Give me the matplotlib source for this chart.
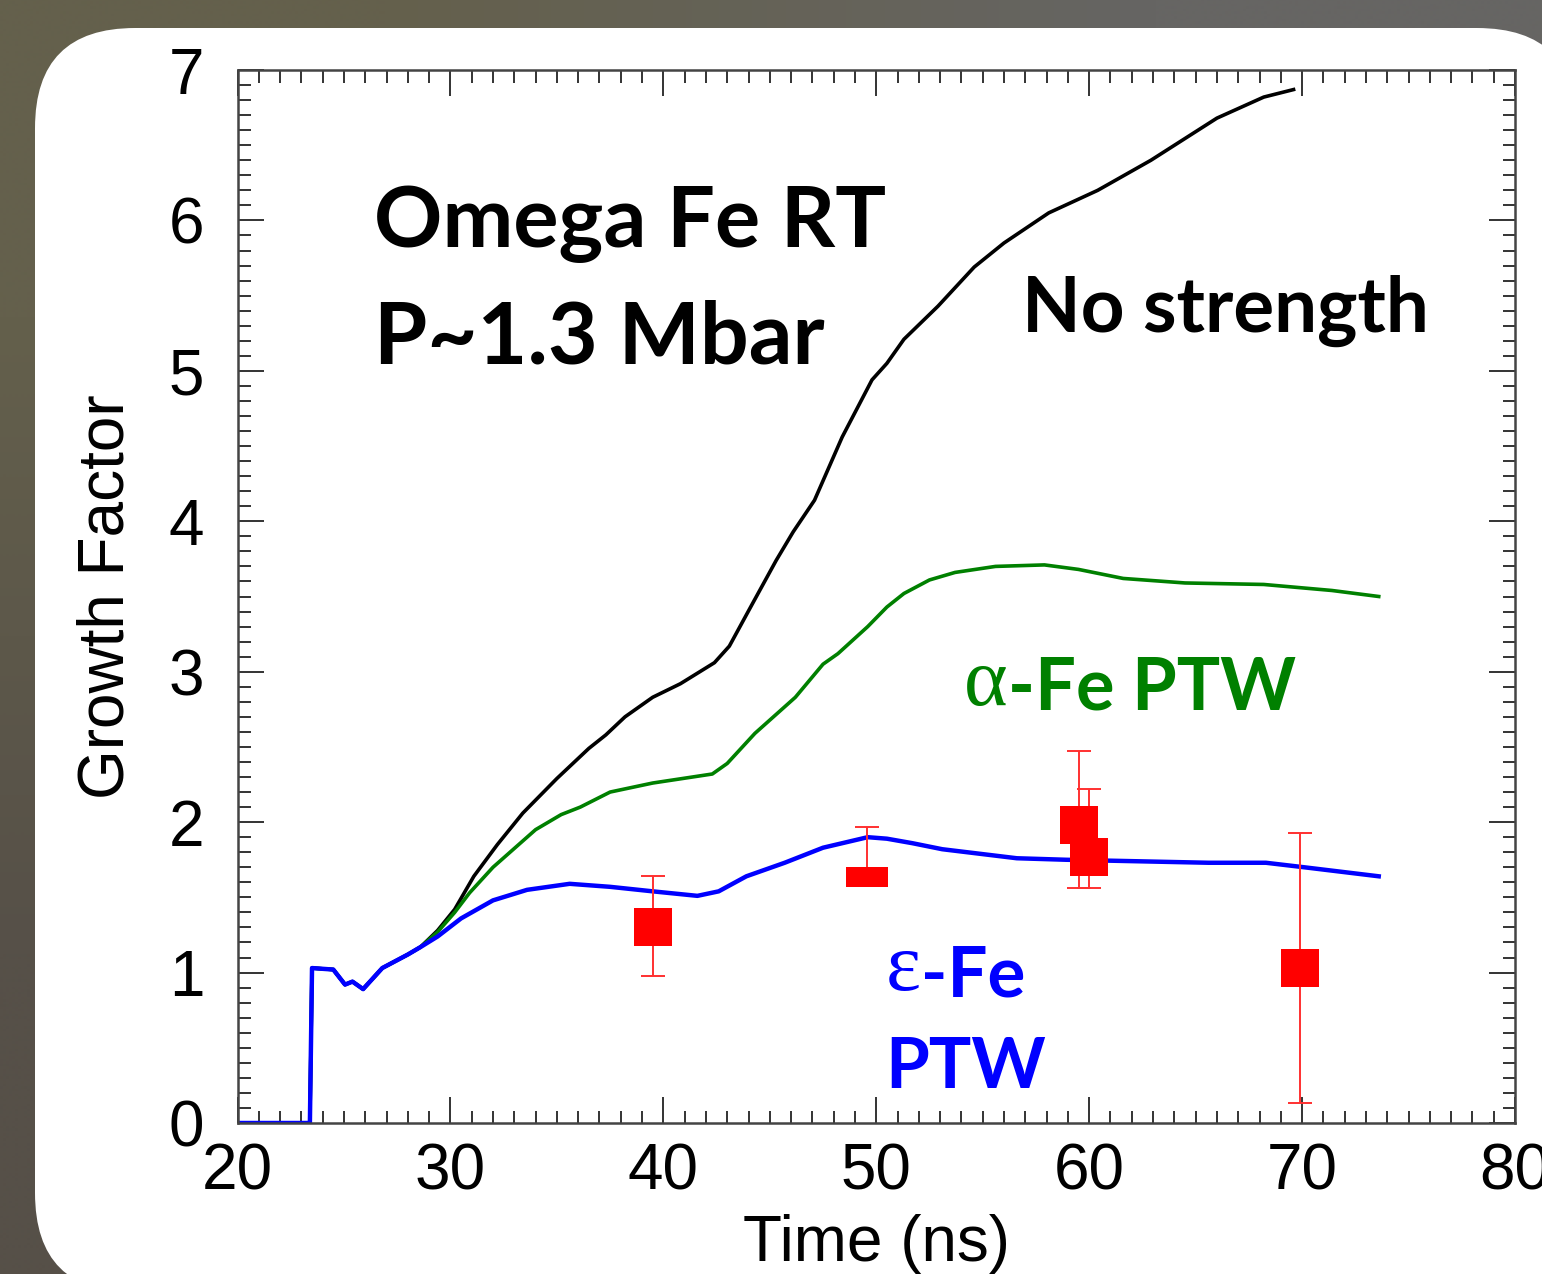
import numpy as np
import matplotlib
matplotlib.use('Agg')
import matplotlib.pyplot as plt
from matplotlib.patches import FancyBboxPatch
from matplotlib.ticker import MultipleLocator
from matplotlib.transforms import IdentityTransform

# =========================
# Data
# =========================
early_t = [20.0, 23.4, 23.5, 24.5, 25.05, 25.4, 25.9, 26.8, 28.0, 28.6]
early_g = [0.0, 0.0, 1.03, 1.02, 0.92, 0.94, 0.89, 1.03, 1.12, 1.17]

# no strength (black)
ns_t = early_t + [29.4, 30.2, 31.1, 32.2, 33.4, 35.0, 36.5, 37.3, 38.2, 39.5, 40.8,
                  42.4, 43.1, 44.1, 45.3, 46.1, 47.1, 48.4, 49.8, 50.5, 51.3, 52.9,
                  54.6, 56.0, 58.1, 60.4, 62.9, 66.0, 68.2, 69.6]
ns_g = early_g + [1.28, 1.42, 1.64, 1.85, 2.06, 2.29, 2.49, 2.58, 2.70, 2.83, 2.92,
                  3.06, 3.17, 3.43, 3.74, 3.93, 4.14, 4.56, 4.94, 5.05, 5.21, 5.43,
                  5.69, 5.85, 6.05, 6.20, 6.40, 6.68, 6.82, 6.87]

# alpha-Fe PTW (green)
alpha_t = early_t + [29.4, 30.2, 30.9, 32.0, 34.0, 35.2, 36.1, 37.5, 39.5, 42.3, 43.0,
                     44.3, 46.2, 47.5, 48.2, 49.6, 50.5, 51.3, 52.5, 53.7, 55.6, 57.9,
                     59.5, 61.6, 64.5, 68.2, 71.4, 73.6]
alpha_g = early_g + [1.27, 1.40, 1.53, 1.70, 1.95, 2.05, 2.10, 2.20, 2.26, 2.32, 2.39,
                     2.59, 2.83, 3.05, 3.12, 3.30, 3.43, 3.52, 3.61, 3.66, 3.70, 3.71,
                     3.68, 3.62, 3.59, 3.58, 3.54, 3.50]

# epsilon-Fe PTW (blue)
eps_t = early_t + [29.4, 30.5, 32.0, 33.6, 35.6, 37.5, 39.5, 41.6, 42.6, 43.9, 45.7,
                   47.5, 49.6, 50.5, 51.7, 53.1, 56.6, 58.9, 65.6, 68.3, 70.1, 73.6]
eps_g = early_g + [1.24, 1.36, 1.48, 1.55, 1.59, 1.57, 1.54, 1.51, 1.54, 1.64, 1.73,
                   1.83, 1.90, 1.89, 1.86, 1.82, 1.76, 1.75, 1.73, 1.73, 1.70, 1.64]

# experiment (red squares)
exp_t = [39.5, 59.5, 60.0, 69.9]
exp_g = [1.30, 1.98, 1.77, 1.03]
exp_lo = [0.32, 0.42, 0.21, 0.90]
exp_hi = [0.34, 0.49, 0.45, 0.90]
# the flattened point near 50 ns
flat_t = [49.55]
flat_g = [1.635]
flat_lo = [0.05]
flat_hi = [0.335]

x_ticks = [20, 30, 40, 50, 60, 70, 80]
y_ticks = [0, 1, 2, 3, 4, 5, 6, 7]

# =========================
# Figure
# =========================
W, H = 1542, 1274
fig = plt.figure(figsize=(W / 100, H / 100), dpi=100)

bg = fig.add_axes([0, 0, 1, 1], zorder=-3)
bg_rgb = np.array([[[100, 96, 76], [102, 101, 99]],
                   [[86, 80, 72], [96, 94, 90]]]) / 255
bg.imshow(bg_rgb, extent=[0, 1, 0, 1], aspect='auto', interpolation='bilinear')
bg.axis('off')

panel = FancyBboxPatch((35, -19), 1542, 1265, boxstyle='round,pad=0,rounding_size=100',
                       transform=IdentityTransform(), fc='white', ec='none', zorder=-2)
fig.add_artist(panel)

left, right, top, bottom = 237.5, 1515, 70, 1123
ax = fig.add_axes([left / W, (H - bottom) / H, (right - left) / W, (bottom - top) / H])

ax.plot(ns_t, ns_g, color='black', lw=2.6)
ax.plot(alpha_t, alpha_g, color='#008000', lw=2.6)
ax.plot(eps_t, eps_g, color='#0000ff', lw=3.2)

ax.errorbar(exp_t, exp_g, yerr=[exp_lo, exp_hi], fmt='none', ecolor='#ff3030',
            elinewidth=1.4, capsize=8.3, capthick=1.4, zorder=3)
ax.plot(exp_t, exp_g, ls='none', marker='s', ms=27.4, mfc='red', mec='red', mew=0, zorder=4)
ax.errorbar(flat_t, flat_g, yerr=[flat_lo, flat_hi], fmt='none', ecolor='#ff3030',
            elinewidth=1.4, capsize=8.3, capthick=1.4, zorder=3)
rect = [(-1, -0.5), (1, -0.5), (1, 0.5), (-1, 0.5), (-1, -0.5)]
ax.plot(flat_t, flat_g, ls='none', marker=rect, ms=30, mfc='red', mec='red', mew=0, zorder=4)

ax.set_xlim(20, 80)
ax.set_ylim(0, 7)
ax.set_xticks(x_ticks)
ax.set_yticks(y_ticks)
ax.xaxis.set_minor_locator(MultipleLocator(1))
ax.yaxis.set_minor_locator(MultipleLocator(0.1))

tick_font = 'Liberation Sans'
ax.tick_params(which='both', direction='in', top=True, right=True, color='#333333')
ax.tick_params(which='major', length=18.7, width=1.4)
ax.tick_params(which='minor', length=9, width=1.4)
ax.tick_params(axis='x', which='major', pad=14, labelsize=46)
ax.tick_params(axis='y', which='major', pad=24, labelsize=46)
for lab in ax.get_xticklabels() + ax.get_yticklabels():
    lab.set_fontfamily(tick_font)
for sp in ax.spines.values():
    sp.set_linewidth(1.8)
    sp.set_color('#444444')

ax.set_xlabel('Time (ns)', fontsize=46, family=tick_font, labelpad=8)
ax.set_ylabel('Growth Factor', fontsize=46, family=tick_font, labelpad=23)

# annotations
bold = dict(family='Lato', weight='bold', va='baseline', ha='left')
ax.text(26.41, 5.82, 'Omega Fe RT', fontsize=61, color='black', **bold)
ax.text(26.41, 5.05, 'P~1.3 Mbar', fontsize=62, color='black', **bold)
ax.text(56.84, 5.26, 'No strength', fontsize=55, color='black', **bold)

a1 = ax.text(54.12, 2.78, '\u03b1', fontsize=60, family='Liberation Serif',
             color='#008000', va='baseline', ha='left')
ax.annotate('-Fe PTW', xy=(1, 0), xycoords=a1, fontsize=52, color='#008000',
            family='Lato', weight='bold', va='bottom', ha='left')

e1 = ax.text(50.46, 0.884, '\u03b5', fontsize=60, family='Liberation Serif',
             color='#0000ff', va='baseline', ha='left')
ax.annotate('-Fe', xy=(1, 0), xycoords=e1, fontsize=51, color='#0000ff',
            family='Lato', weight='bold', va='bottom', ha='left')
ax.text(50.41, 0.233, 'PTW', fontsize=51, color='#0000ff', **bold)

fig.savefig('out.png', dpi=100)
